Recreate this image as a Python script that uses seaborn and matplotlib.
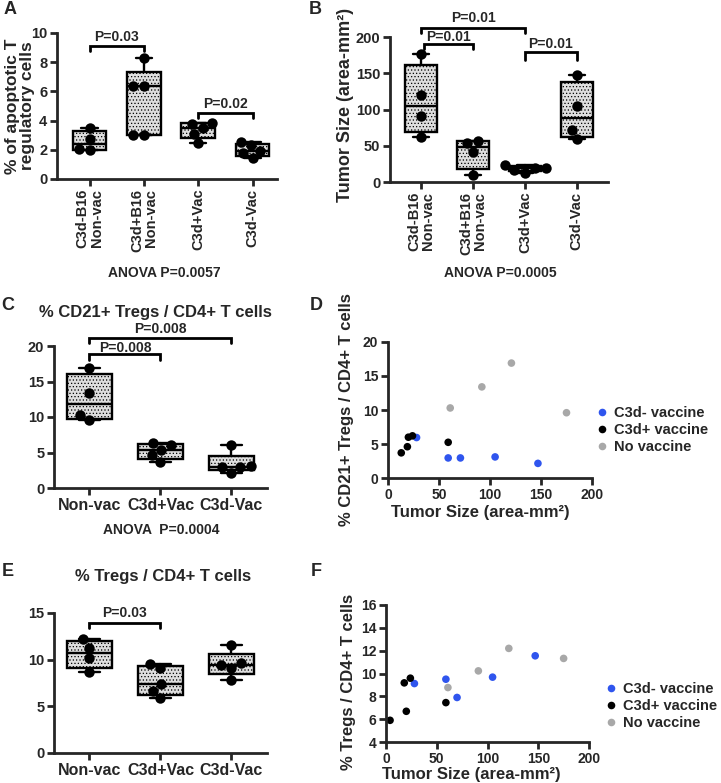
import numpy as np
import pandas as pd
import matplotlib
matplotlib.use("Agg")
import matplotlib.pyplot as plt
import seaborn as sns

sns.set_style("ticks")
plt.rcParams["font.family"] = ["Liberation Sans", "DejaVu Sans"]
plt.rcParams["font.weight"] = "bold"
plt.rcParams["axes.labelweight"] = "bold"
plt.rcParams["hatch.linewidth"] = 0.5

# ---------------- data ----------------
A_groups = ["C3d-B16\nNon-vac", "C3d+B16\nNon-vac", "C3d+Vac", "C3d-Vac"]
A_c3dm_b16 = [3.5, 2.75, 2.05, 2.0]
A_c3dp_b16 = [8.3, 6.4, 6.4, 3.0, 3.0]
A_c3dp_vac = [3.85, 3.8, 3.5, 3.1, 2.45]
A_c3dm_vac = [2.55, 2.3, 1.95, 1.75, 1.45]

B_groups = ["C3d-B16\nNon-vac", "C3d+B16\nNon-vac", "C3d+Vac", "C3d-Vac"]
B_c3dm_b16 = [176, 120, 91, 62]
B_c3dp_b16 = [57, 54, 42, 10]
B_c3dp_vac = [24, 20, 19, 17, 13]
B_c3dm_vac = [148, 105, 72, 59]

CE_groups = ["Non-vac", "C3d+Vac", "C3d-Vac"]
C_nonvac = [16.9, 13.4, 10.3, 9.6]
C_c3dp = [6.3, 6.0, 5.3, 4.6, 3.7]
C_c3dm = [6.0, 3.1, 2.95, 2.9, 2.1]

E_nonvac = [12.2, 11.3, 10.15, 8.7]
E_c3dp = [9.55, 9.15, 7.4, 6.65, 5.85]
E_c3dm = [11.55, 9.65, 9.45, 9.1, 7.85]

scatter_groups = ["C3d- vaccine", "C3d+ vaccine", "No vaccine"]
D_minus_x = [28, 59, 71, 105, 147]
D_minus_y = [5.95, 2.95, 2.95, 3.1, 2.15]
D_plus_x = [13, 19, 20, 24, 59]
D_plus_y = [3.7, 4.6, 6.0, 6.2, 5.25]
D_none_x = [61, 92, 121, 175]
D_none_y = [10.3, 13.4, 16.9, 9.6]

F_minus_x = [28, 59, 70, 105, 147]
F_minus_y = [9.12, 9.5, 7.9, 9.68, 11.55]
F_plus_x = [4, 18, 20, 24, 59]
F_plus_y = [5.9, 9.18, 6.69, 9.59, 7.45]
F_none_x = [61, 91, 121, 175]
F_none_y = [8.77, 10.23, 12.2, 11.32]

palette = {"C3d- vaccine": "#2f55ee", "C3d+ vaccine": "#000000", "No vaccine": "#a8a8a8"}

# ---------------- figure ----------------
W, H = 721, 783
fig = plt.figure(figsize=(W / 100, H / 100), dpi=100)


def add_ax(l, t, r, b):
    return fig.add_axes([l / W, 1 - b / H, (r - l) / W, (b - t) / H])


def ftext(x, y, s, **kw):
    kw.setdefault("ha", "center")
    kw.setdefault("va", "center")
    kw.setdefault("fontweight", "bold")
    fig.text(x / W, 1 - y / H, s, **kw)


def style_ax(ax, size=10.5):
    sns.despine(ax=ax)
    for sp in ("left", "bottom"):
        ax.spines[sp].set_linewidth(2.0)
    ax.tick_params(direction="out", length=5, width=2.0, labelsize=size, pad=2)
    for lab in ax.get_yticklabels() + ax.get_xticklabels():
        lab.set_fontweight("bold")


def box_panel(ax, groups, vals, ylim, yticks, xlim, rot):
    df = pd.DataFrame({
        "g": np.repeat(groups, [len(v) for v in vals]),
        "v": np.concatenate([np.asarray(v, float) for v in vals]),
    })
    sns.swarmplot(data=df, x="g", y="v", order=groups, color="black",
                  size=7.5, ax=ax, zorder=4)
    stats = []
    for v in vals:
        v = np.asarray(v, float)
        q1, med, q3 = np.percentile(v, [25, 50, 75], method="weibull")
        stats.append(dict(med=med, q1=q1, q3=q3, whislo=v.min(),
                          whishi=v.max(), fliers=[]))
    ax.bxp(stats, positions=np.arange(len(groups)), widths=0.62,
           capwidths=0.3, patch_artist=True, showfliers=False,
           manage_ticks=False,
           boxprops=dict(facecolor="#dedede", edgecolor="black",
                         linewidth=1.7, hatch="....."),
           medianprops=dict(color="black", linewidth=1.7),
           whiskerprops=dict(color="black", linewidth=1.7),
           capprops=dict(color="black", linewidth=1.7))
    ax.set_xlim(*xlim)
    ax.set_ylim(*ylim)
    ax.set_yticks(yticks)
    ax.set_xticks(np.arange(len(groups)))
    ax.set_xlabel("")
    ax.set_ylabel("")
    style_ax(ax)
    if rot:
        ax.set_xticklabels(groups, rotation=90, ha="center", va="top",
                           multialignment="right", fontsize=10.5,
                           fontweight="bold", linespacing=1.0)
    else:
        ax.set_xticklabels(groups, fontsize=11.5, fontweight="bold")


def bracket(ax, x1, x2, y, yleg, ty, text):
    ax.plot([x1, x1, x2, x2], [yleg, y, y, yleg], color="black", lw=2.0,
            clip_on=False, solid_joinstyle="miter", zorder=5)
    ax.text((x1 + x2) / 2, ty, text, ha="center", va="center",
            fontsize=10, fontweight="bold", clip_on=False)


# ----- Panel A -----
axA = add_ax(57, 33, 277, 179)
box_panel(axA, A_groups, [A_c3dm_b16, A_c3dp_b16, A_c3dp_vac, A_c3dm_vac],
          (0, 10), [0, 2, 4, 6, 8, 10], (-0.6, 3.45), True)
bracket(axA, 0, 1, 9.13, 8.8, 9.75, "P=0.03")
bracket(axA, 2, 3, 4.5, 4.17, 5.15, "P=0.02")
ftext(20, 106, "% of apoptotic T\nregulatory cells", rotation=90,
      fontsize=12.5, linespacing=1.0)
ftext(164, 273, "ANOVA P=0.0057", fontsize=10)

# ----- Panel B -----
axB = add_ax(390, 37, 608, 182)
box_panel(axB, B_groups, [B_c3dm_b16, B_c3dp_b16, B_c3dp_vac, B_c3dm_vac],
          (0, 200), [0, 50, 100, 150, 200], (-0.6, 3.6), True)
bracket(axB, 0, 2, 213, 205, 226, "P=0.01")
bracket(axB, 0.05, 1, 191, 183, 200, "P=0.01")
bracket(axB, 2, 3, 180, 168, 190, "P=0.01")
ftext(345, 105, "Tumor Size (area-mm²)", rotation=90, fontsize=13)
ftext(500, 273, "ANOVA P=0.0005", fontsize=10)

# ----- Panel C -----
axC = add_ax(54, 346, 267, 488)
box_panel(axC, CE_groups, [C_nonvac, C_c3dp, C_c3dm],
          (0, 20), [0, 5, 10, 15, 20], (-0.5, 2.5), False)
bracket(axC, 0, 1, 18.9, 18.0, 19.75, "P=0.008")
bracket(axC, 0, 2, 21.1, 20.4, 22.4, "P=0.008")
ftext(155, 313, "% CD21+ Tregs / CD4+ T cells", fontsize=12)
ftext(161, 530, "ANOVA  P=0.0004", fontsize=10)

# ----- Panel E -----
axE = add_ax(54, 613, 267, 753)
box_panel(axE, CE_groups, [E_nonvac, E_c3dp, E_c3dm],
          (0, 15), [0, 5, 10, 15], (-0.5, 2.5), False)
bracket(axE, 0, 1, 13.96, 13.4, 15.0, "P=0.03")
ftext(163, 576, "% Tregs / CD4+ T cells", fontsize=12)


# ----- scatter panels -----
def scatter_panel(ax, xs, ys, ylim, yticks, leg_anchor):
    df = pd.DataFrame({
        "tumor": np.concatenate([np.asarray(x, float) for x in xs]),
        "pct": np.concatenate([np.asarray(y, float) for y in ys]),
        "group": np.repeat(scatter_groups, [len(x) for x in xs]),
    })
    sns.scatterplot(data=df, x="tumor", y="pct", hue="group",
                    hue_order=scatter_groups, palette=palette, s=30,
                    edgecolor="none", ax=ax, clip_on=False)
    ax.set_xlim(0, 200)
    ax.set_xticks([0, 50, 100, 150, 200])
    ax.set_ylim(*ylim)
    ax.set_yticks(yticks)
    ax.set_xlabel("")
    ax.set_ylabel("")
    style_ax(ax, size=10)
    leg = ax.legend(loc="center left", bbox_to_anchor=leg_anchor,
                    frameon=False, borderaxespad=0, borderpad=0,
                    handlelength=0.8, handletextpad=0.45,
                    labelspacing=0.2, fontsize=10.5, markerscale=1.0)
    for t in leg.get_texts():
        t.set_fontweight("bold")


axD = add_ax(388, 342, 592, 478)
scatter_panel(axD, [D_minus_x, D_plus_x, D_none_x],
              [D_minus_y, D_plus_y, D_none_y], (0, 20), [0, 5, 10, 15, 20],
              (1.02, 0.35))
ftext(347, 410, "% CD21+ Tregs / CD4+ T cells", rotation=90, fontsize=12)
ftext(480, 513, "Tumor Size (area-mm²)", fontsize=12)

axF = add_ax(386, 605, 589, 742)
scatter_panel(axF, [F_minus_x, F_plus_x, F_none_x],
              [F_minus_y, F_plus_y, F_none_y], (4, 16),
              [4, 6, 8, 10, 12, 14, 16], (1.08, 0.26))
ftext(349, 682, "% Tregs / CD4+ T cells", rotation=90, fontsize=12)
ftext(471, 774, "Tumor Size (area-mm²)", fontsize=12)

# ----- panel letters -----
for lx, ly, s in [(10, 10, "A"), (315, 9, "B"), (8, 306, "C"),
                  (316, 306, "D"), (8, 571, "E"), (316, 571, "F")]:
    ftext(lx, ly, s, fontsize=13)

fig.savefig("out.png", dpi=100)
